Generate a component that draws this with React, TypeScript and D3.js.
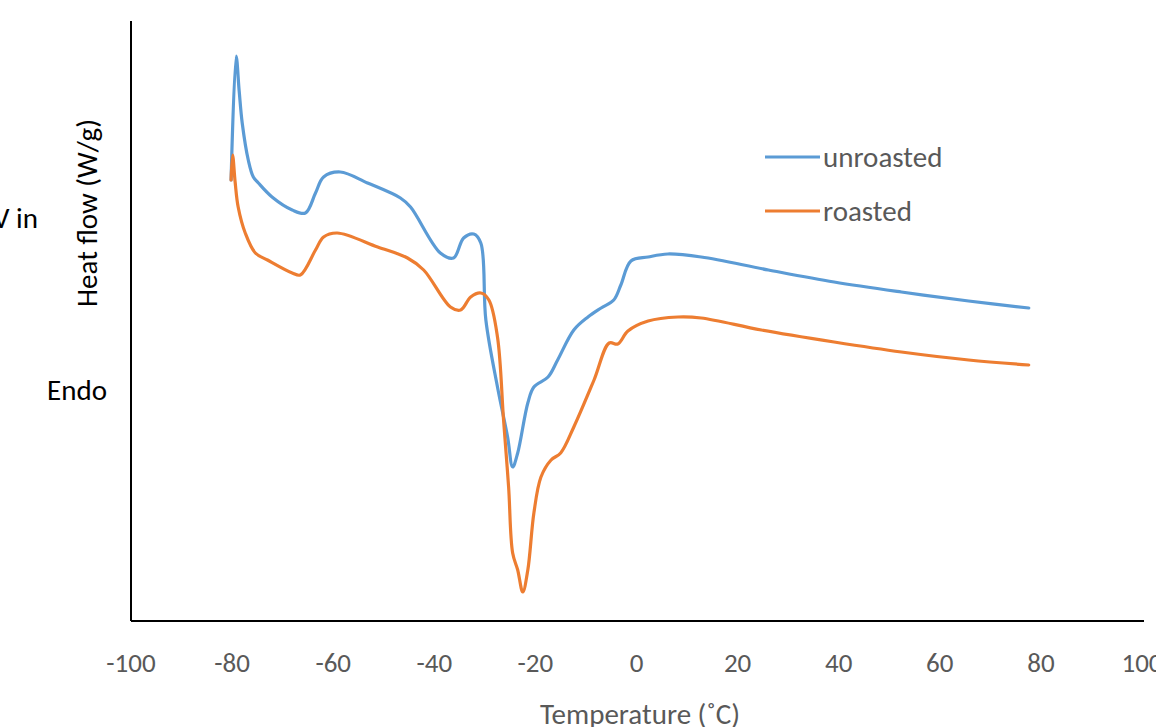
import React from 'react'
import * as d3 from 'd3';

const width = 1156;
const height = 727;
const margin = { top: 21, left: 131, bottom: 106, right: 14 };
const iwidth = width - margin.left - margin.right;
const iheight = height - margin.top - margin.bottom;

// temperature (°C) and heat flow (arbitrary offset, W/g)
const tempUnroasted = [-80.2, -79.2, -78.6, -78.0, -76.8, -75.8, -74.8, -72.1, -68.1, -65.5, -63.5, -61.9, -58.6, -53.2, -46.7, -44.7, -38.8, -36.2, -34.2, -32.2, -30.8, -29.8, -27.5, -25.5, -24.5, -23.5, -21.5, -20.3, -17.5, -15.6, -12.4, -9.6, -7.0, -4.5, -3.1, -1.1, 2.3, 6.2, 12.8, 26.1, 39.1, 52.4, 65.7, 77.6];
const flowUnroasted = [4.41, 5.65, 5.3, 4.98, 4.61, 4.44, 4.38, 4.24, 4.11, 4.08, 4.28, 4.44, 4.49, 4.38, 4.23, 4.14, 3.68, 3.63, 3.83, 3.87, 3.78, 3.01, 2.34, 1.84, 1.54, 1.68, 2.18, 2.34, 2.44, 2.61, 2.91, 3.04, 3.13, 3.21, 3.36, 3.60, 3.64, 3.67, 3.64, 3.51, 3.39, 3.29, 3.20, 3.13];

const tempRoasted = [-80.2, -79.9, -79.4, -78.8, -77.4, -75.4, -73.0, -68.1, -66.5, -63.5, -61.9, -59.2, -51.2, -45.3, -42.1, -36.8, -34.8, -32.8, -30.8, -29.2, -27.5, -26.3, -25.3, -24.5, -23.5, -22.5, -21.5, -20.3, -18.9, -16.9, -15.0, -12.4, -8.4, -5.4, -3.7, -1.7, 2.3, 8.2, 12.8, 24.7, 39.1, 52.4, 65.7, 77.6];
const flowRoasted = [4.41, 4.66, 4.39, 4.14, 3.88, 3.68, 3.61, 3.48, 3.46, 3.71, 3.84, 3.88, 3.74, 3.63, 3.51, 3.14, 3.11, 3.24, 3.28, 3.21, 2.84, 2.01, 1.34, 0.68, 0.51, 0.29, 0.51, 1.08, 1.44, 1.61, 1.68, 1.94, 2.41, 2.78, 2.77, 2.90, 3.00, 3.04, 3.03, 2.91, 2.79, 2.69, 2.61, 2.56];

const xTicks = [-100, -80, -60, -40, -20, 0, 20, 40, 60, 80, 100];
const seriesNames = ["unroasted", "roasted"];
const colors = ["#5B9BD5", "#ED7D31"];

const font = "Calibri, Carlito, 'Liberation Sans Narrow', 'Open Sans', sans-serif";

const App = () => {
    const x = d3.scaleLinear().domain([-100, 100]).range([0, iwidth]);
    const y = d3.scaleLinear().domain([0, 6]).range([iheight, 0]);

    const line = d3.line<[number, number]>()
        .x(d => x(d[0]))
        .y(d => y(d[1]))
        .curve(d3.curveCatmullRom.alpha(0.5));

    const series = [
        tempUnroasted.map((t, i) => [t, flowUnroasted[i]] as [number, number]),
        tempRoasted.map((t, i) => [t, flowRoasted[i]] as [number, number]),
    ];

    return (
        <svg width={width} height={height} style={{ position: "absolute", left: 0, top: 0, background: "#fff" }}>
            <g transform={`translate(${margin.left},${margin.top})`}>
                {series.map((s, i) => (
                    <path key={i} d={line(s) || ""} fill="none" stroke={colors[i]} strokeWidth={3.2} strokeLinejoin="round" strokeLinecap="round" />
                ))}
                {/* axes */}
                <line x1={0} x2={0} y1={0} y2={iheight} stroke="#000" strokeWidth={2} />
                <line x1={0} x2={x(100) + 2} y1={iheight} y2={iheight} stroke="#000" strokeWidth={2} />
                {xTicks.map(t => (
                    <text key={t} x={x(t)} y={iheight + 51} textAnchor="middle" fontFamily={font} fontSize={27} fill="#595959">{t}</text>
                ))}
                {/* legend */}
                {seriesNames.map((n, i) => (
                    <g key={n} transform={`translate(${634},${136 + i * 54})`}>
                        <line x1={0} x2={55} y1={0} y2={0} stroke={colors[i]} strokeWidth={3.2} />
                        <text x={58} y={0} dy="0.33em" fontFamily={font} fontSize={29} fill="#595959">{n}</text>
                    </g>
                ))}
            </g>
            <text x={640} y={724} textAnchor="middle" fontFamily={font} fontSize={29} fill="#595959">Temperature (˚C)</text>
            <text transform="translate(97,213) rotate(-90)" textAnchor="middle" fontFamily={font} fontSize={29} fill="#000">Heat flow (W/g)</text>
            <text x={107} y={400} textAnchor="end" fontFamily={font} fontSize={29} fill="#000">Endo</text>
            <text x={38} y={228} textAnchor="end" fontFamily={font} fontSize={29} fill="#000">V in</text>
        </svg>
    );
}

export default App;
